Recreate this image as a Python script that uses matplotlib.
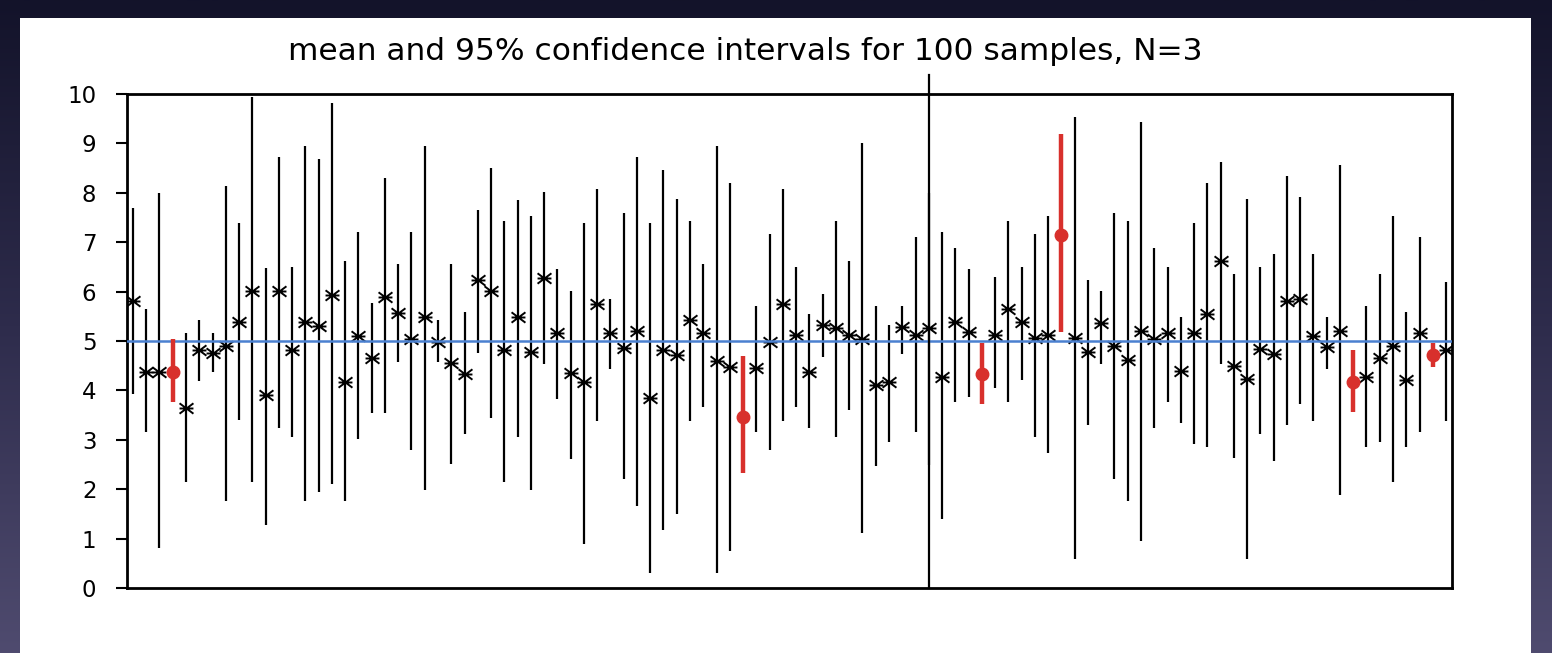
import matplotlib
matplotlib.use("Agg")
import matplotlib.pyplot as plt
import numpy as np
from matplotlib.patches import Rectangle
from matplotlib.path import Path

# mean and 95% CI bounds for each of the 100 samples
means = [
    5.81, 4.38, 4.38, 4.38, 3.64, 4.82, 4.75, 4.89, 5.38, 6.01,
    3.91, 6.01, 4.82, 5.38, 5.31, 5.94, 4.18, 5.11, 4.66, 5.90,
    5.57, 5.05, 5.48, 4.97, 4.55, 4.33, 6.23, 6.01, 4.82, 5.48,
    4.78, 6.28, 5.16, 4.35, 4.18, 5.74, 5.16, 4.85, 5.20, 3.84,
    4.82, 4.72, 5.43, 5.16, 4.60, 4.48, 3.47, 4.45, 4.97, 5.75,
    5.13, 4.38, 5.32, 5.26, 5.13, 5.05, 4.11, 4.18, 5.29, 5.13,
    5.26, 4.28, 5.38, 5.19, 4.33, 5.13, 5.65, 5.38, 5.07, 5.13,
    7.15, 5.07, 4.78, 5.36, 4.89, 4.62, 5.20, 5.05, 5.16, 4.40,
    5.16, 5.54, 6.61, 4.49, 4.23, 4.83, 4.73, 5.80, 5.86, 5.11,
    4.87, 5.20, 4.18, 4.28, 4.66, 4.89, 4.21, 5.16, 4.72, 4.82,
]
upper = [
    7.70, 5.65, 7.99, 5.04, 5.16, 5.43, 5.16, 8.14, 7.38, 9.93,
    6.47, 8.73, 6.50, 8.95, 8.68, 9.81, 6.62, 7.21, 5.76, 8.29,
    6.56, 7.21, 8.95, 5.43, 6.56, 5.59, 7.65, 8.51, 7.43, 7.85,
    7.54, 8.02, 6.46, 6.02, 7.38, 8.08, 5.86, 7.60, 8.73, 7.38,
    8.46, 7.87, 7.43, 6.56, 8.95, 8.19, 4.70, 5.71, 7.16, 8.08,
    6.50, 5.54, 5.96, 7.43, 6.62, 9.00, 5.70, 5.32, 5.71, 7.11,
    8.00, 7.21, 6.89, 6.46, 4.95, 6.29, 7.43, 6.50, 7.16, 7.54,
    9.20, 9.53, 6.23, 6.02, 7.60, 7.43, 9.43, 6.89, 6.50, 5.48,
    7.38, 8.19, 8.62, 6.35, 7.87, 6.50, 6.77, 8.35, 7.91, 6.77,
    5.48, 8.56, 4.82, 5.70, 6.35, 7.54, 5.59, 7.11, 4.95, 6.19,
]
lower = [
    3.92, 3.16, 0.80, 3.77, 2.15, 4.20, 4.37, 1.76, 3.40, 2.14,
    1.28, 3.23, 3.06, 1.76, 1.94, 2.10, 1.76, 3.01, 3.55, 3.55,
    4.58, 2.79, 1.98, 4.58, 2.52, 3.11, 4.75, 3.45, 2.14, 3.06,
    1.98, 4.53, 3.83, 2.62, 0.90, 3.39, 4.43, 2.20, 1.66, 0.31,
    1.17, 1.50, 3.39, 3.66, 0.31, 0.75, 2.32, 3.16, 2.79, 3.39,
    3.66, 3.23, 4.68, 3.06, 3.60, 1.12, 2.47, 2.96, 4.74, 3.16,
    2.50, 1.39, 3.77, 3.87, 3.72, 4.04, 3.77, 4.21, 3.06, 2.74,
    5.19, 0.59, 3.29, 4.53, 2.20, 1.76, 0.96, 3.23, 3.77, 3.33,
    2.91, 2.85, 4.53, 2.64, 0.59, 3.12, 2.58, 3.29, 3.72, 3.39,
    4.43, 1.88, 3.56, 2.85, 2.96, 2.15, 2.85, 3.16, 4.48, 3.39,
]
# samples whose interval misses the true mean
missed = [4, 47, 65, 71, 93, 99]
true_mean = 5
divider_at = 61

samples = np.arange(1, len(means) + 1)
means = np.array(means)
upper = np.array(upper)
lower = np.array(lower)
is_miss = np.isin(samples, missed)

# "x with a bar" marker like the old spreadsheet one
star_marker = Path(
    [(-1, -0.75), (1, 0.75), (-1, 0.75), (1, -0.75), (-1, 0), (1, 0)],
    [Path.MOVETO, Path.LINETO, Path.MOVETO, Path.LINETO, Path.MOVETO, Path.LINETO],
)

fig = plt.figure(figsize=(15.52, 6.53), dpi=100)

# dark slide background with a white panel
bg = fig.add_axes([0, 0, 1, 1])
grad = np.linspace(0, 1, 256).reshape(-1, 1)
cmap = matplotlib.colors.LinearSegmentedColormap.from_list(
    "bg", ["#13132a", "#2e2c4c", "#4f4b6f"]
)
bg.imshow(grad, aspect="auto", cmap=cmap, extent=[0, 1, 0, 1], origin="upper")
bg.add_patch(Rectangle((20 / 1552, 0), (1531 - 20) / 1552, 1 - 18 / 653,
                       facecolor="white", edgecolor="none"))
bg.set_xlim(0, 1)
bg.set_ylim(0, 1)
bg.axis("off")

ax = fig.add_axes([127 / 1552, 1 - 588 / 653, (1452 - 127) / 1552, (588 - 94) / 653])
ax.set_facecolor("white")

# normal samples
ok = ~is_miss
ax.vlines(samples[ok], lower[ok], upper[ok], color="black", lw=1.6, zorder=2)
ax.plot(samples[ok], means[ok], ls="none", marker=star_marker, ms=10,
        mec="black", mew=1.4, zorder=3)

# intervals that miss the true mean
ax.vlines(samples[is_miss], lower[is_miss], upper[is_miss], color="#d8302c",
          lw=3.2, zorder=4)
ax.plot(samples[is_miss], means[is_miss], ls="none", marker="o", ms=9,
        color="#d8302c", zorder=5)

ax.axhline(true_mean, color="#4a80d0", lw=1.8, zorder=3)
ax.plot([divider_at, divider_at], [0, 10.38], color="black", lw=1.6,
        clip_on=False, zorder=6)

ax.set_xlim(0.55, 100.45)
ax.set_ylim(0, 10)
ax.set_yticks(range(0, 11))
ax.set_xticks([])
ax.tick_params(axis="y", direction="out", length=8, width=1.5,
               labelsize=16.5, pad=14)
for s in ax.spines.values():
    s.set_linewidth(2)

fig.text(745 / 1552, 1 - 52 / 653,
         "mean and 95% confidence intervals for 100 samples, N=3",
         ha="center", va="center", fontsize=22.5, color="black")

fig.savefig("out.png", dpi=100)
